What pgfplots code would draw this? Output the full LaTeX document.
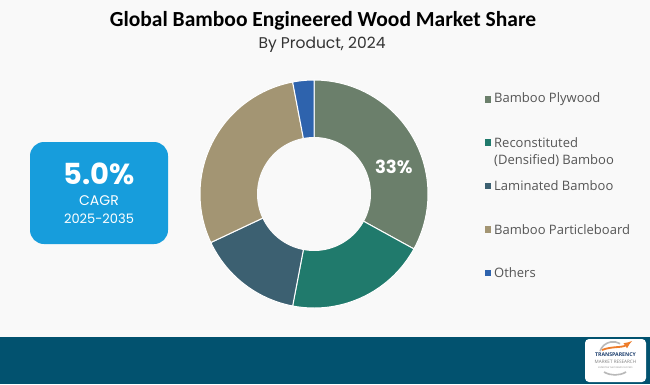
\documentclass[border=0pt]{standalone}
\usepackage{fontspec}
\usepackage{pgfplots}
\usepackage{pgfplotstable}
\pgfplotsset{compat=1.18}
\setmainfont{Open Sans}
\newfontfamily\titlefont{Carlito}
\newfontfamily\geofont{Poppins}

\definecolor{bgc}{HTML}{F9F9F9}
\definecolor{band}{HTML}{02526F}
\definecolor{cagr}{HTML}{179DDC}
\definecolor{cPly}{HTML}{6B7F6B}
\definecolor{cRec}{HTML}{207A6C}
\definecolor{cLam}{HTML}{3C6071}
\definecolor{cPar}{HTML}{A39573}
\definecolor{cOth}{HTML}{2E63AD}
\definecolor{legtext}{HTML}{555555}
\definecolor{tmrblue}{HTML}{1D3F6E}
\definecolor{tmrorange}{HTML}{EE7D2B}

% market share by product, 2024 (%)
\pgfplotstableread[col sep=comma]{
segment,share
Bamboo Plywood,33
Reconstituted (Densified) Bamboo,20
Laminated Bamboo,15
Bamboo Particleboard,29
Others,3
}\sharetable

% slice boundaries, clockwise from 12 o'clock
\pgfplotstablegetelem{0}{share}\of\sharetable\let\sA\pgfplotsretval
\pgfplotstablegetelem{1}{share}\of\sharetable\let\sB\pgfplotsretval
\pgfplotstablegetelem{2}{share}\of\sharetable\let\sC\pgfplotsretval
\pgfplotstablegetelem{3}{share}\of\sharetable\let\sD\pgfplotsretval
\pgfplotstablegetelem{4}{share}\of\sharetable\let\sE\pgfplotsretval
\pgfmathsetmacro\aO{90}
\pgfmathsetmacro\aA{\aO-3.6*\sA}
\pgfmathsetmacro\aB{\aA-3.6*\sB}
\pgfmathsetmacro\aC{\aB-3.6*\sC}
\pgfmathsetmacro\aD{\aC-3.6*\sD}
\pgfmathsetmacro\aE{\aD-3.6*\sE}

\begin{document}
\begin{tikzpicture}
\path[use as bounding box, fill=bgc] (0,0) rectangle (650pt,384pt);
\fill[band] (0,0) rectangle (650pt,47pt);

% titles
\node[font=\titlefont\bfseries\fontsize{21.5}{24}\selectfont, text=black] at (323pt,363pt) {Global Bamboo Engineered Wood Market Share};
\node[font=\geofont\fontsize{15.5}{18}\selectfont, text=black!80] at (322pt,339pt) {By Product, 2024};

% CAGR box
\fill[cagr, rounded corners=14pt] (30pt,140pt) rectangle (168pt,242pt);
\node[font=\geofont\bfseries\fontsize{29}{32}\selectfont, text=white] at (99pt,210pt) {5.0\%};
\node[font=\geofont\fontsize{14}{16}\selectfont, text=white] at (99pt,183pt) {CAGR};
\node[font=\geofont\fontsize{13}{16}\selectfont, text=white] at (99pt,165pt) {2025-2035};

\begin{axis}[
  at={(314pt,190pt)}, anchor=origin,
  width=228pt, height=228pt, scale only axis,
  xmin=-1, xmax=1, ymin=-1, ymax=1,
  hide axis, clip=false,
]
\addplot[fill=cPly, draw=white, line width=1pt, domain=\aA:\aO, samples=80, variable=\t] ({cos(\t)},{sin(\t)}) -- (axis cs:0,0) -- cycle;
\addplot[fill=cRec, draw=white, line width=1pt, domain=\aB:\aA, samples=60, variable=\t] ({cos(\t)},{sin(\t)}) -- (axis cs:0,0) -- cycle;
\addplot[fill=cLam, draw=white, line width=1pt, domain=\aC:\aB, samples=50, variable=\t] ({cos(\t)},{sin(\t)}) -- (axis cs:0,0) -- cycle;
\addplot[fill=cPar, draw=white, line width=1pt, domain=\aD:\aC, samples=80, variable=\t] ({cos(\t)},{sin(\t)}) -- (axis cs:0,0) -- cycle;
\addplot[fill=cOth, draw=white, line width=1pt, domain=\aE:\aD, samples=10, variable=\t] ({cos(\t)},{sin(\t)}) -- (axis cs:0,0) -- cycle;
% centre hole
\addplot[fill=bgc, draw=none, domain=0:360, samples=120, variable=\t] ({0.5*cos(\t)},{0.5*sin(\t)}) -- cycle;
\node[font=\geofont\bfseries\fontsize{18}{20}\selectfont, text=white] at (axis cs:0.70,0.24) {\sA\%};
\end{axis}

% legend
\begin{scope}[font=\fontsize{13}{15}\selectfont, text=legtext]
\fill[cPly] (484.5pt,281.5pt) rectangle ++(6.5pt,6.5pt);
\node[anchor=west, inner sep=0] at (494pt,284.5pt) {Bamboo Plywood};
\fill[cRec] (484.5pt,238.5pt) rectangle ++(6.5pt,6.5pt);
\node[anchor=west, inner sep=0] at (494pt,241.5pt) {Reconstituted};
\node[anchor=west, inner sep=0] at (494pt,223pt) {(Densified) Bamboo};
\fill[cLam] (484.5pt,195pt) rectangle ++(6.5pt,6.5pt);
\node[anchor=west, inner sep=0] at (494pt,198pt) {Laminated Bamboo};
\fill[cPar] (484.5pt,151.5pt) rectangle ++(6.5pt,6.5pt);
\node[anchor=west, inner sep=0] at (494pt,154.5pt) {Bamboo Particleboard};
\fill[cOth] (484.5pt,108pt) rectangle ++(6.5pt,6.5pt);
\node[anchor=west, inner sep=0] at (494pt,111pt) {Others};
\end{scope}

% logo
\fill[white, rounded corners=4pt] (585pt,2pt) rectangle (646pt,45pt);
\draw[gray!55, line width=1.6pt] (600pt,33pt) arc[start angle=160, end angle=60, radius=14pt];
\draw[tmrorange, line width=1.8pt, -latex] (602pt,34pt) .. controls (612pt,38pt) and (622pt,36pt) .. (632pt,43pt);
\node[font=\fontsize{5.2}{6}\selectfont\bfseries, text=tmrblue, inner sep=0] at (615.5pt,29pt) {TRANSPARENCY};
\node[font=\fontsize{4.6}{5}\selectfont, text=gray, inner sep=0] at (615.5pt,22pt) {MARKET RESEARCH};
\node[font=\fontsize{2.2}{3}\selectfont, text=gray, inner sep=0] at (615.5pt,16pt) {EXPERTISE THAT DRIVES SUCCESS};
\draw[gray!55, line width=1.6pt] (604pt,12pt) arc[start angle=240, end angle=300, radius=22pt];
\end{tikzpicture}
\end{document}
